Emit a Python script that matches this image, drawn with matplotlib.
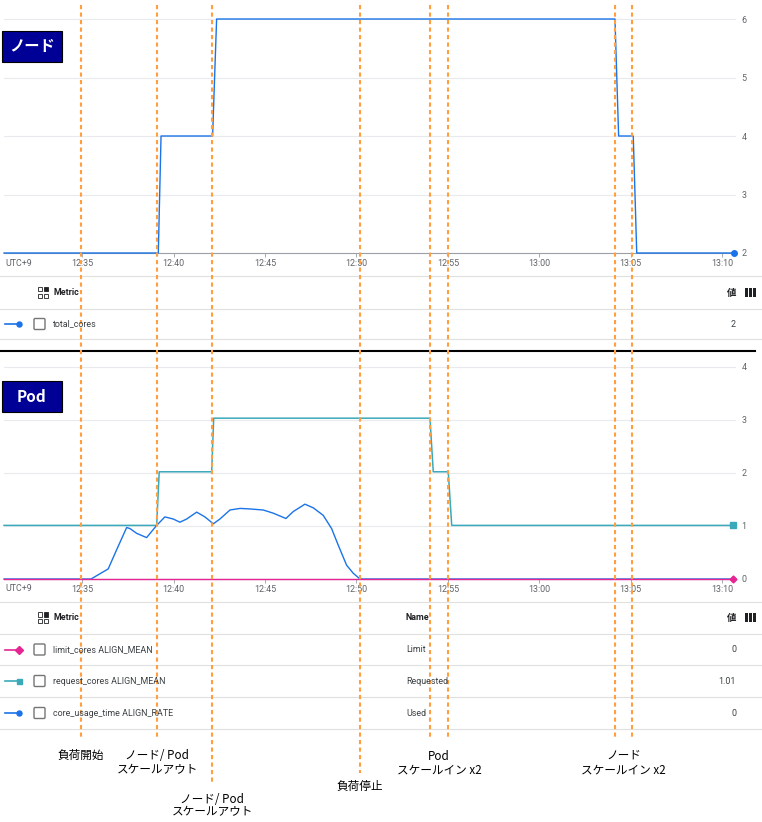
import numpy as np
import matplotlib.pyplot as plt
from matplotlib.patches import Rectangle, FancyBboxPatch
from matplotlib.lines import Line2D
from matplotlib.transforms import blended_transform_factory

# time axis: minutes after 12:30 (UTC+9)
xtick_t = [5, 10, 15, 20, 25, 30, 35, 40]
xtick_labels = ['12:35', '12:40', '12:45', '12:50', '12:55', '13:00', '13:05', '13:10']

# node chart: total_cores
total_cores_t = [0.72, 9.16, 9.31, 12.13, 12.35, 34.14, 34.34, 35.14, 35.33, 40.67]
total_cores_v = [2, 2, 4, 4, 6, 6, 4, 4, 2, 2]

# pod chart
limit_t = [0.72, 40.61]
limit_v = [0, 0]
request_t = [0.72, 9.07, 9.21, 12.08, 12.19, 24.02, 24.20, 25.02, 25.21, 40.61]
request_v = [1.01, 1.01, 2.02, 2.02, 3.03, 3.03, 2.02, 2.02, 1.01, 1.01]
usage_t = [0.72, 5.48, 6.42, 6.88, 7.43, 7.61, 7.98, 8.52, 9.07, 9.52, 9.98, 10.34, 10.71,
           11.26, 11.71, 12.17, 12.53, 13.08, 13.63, 14.17, 14.90, 15.45, 16.14, 16.54,
           17.18, 17.64, 18.18, 18.64, 19.00, 19.46, 19.82, 20.19, 40.61]
usage_v = [0, 0, 0.19, 0.55, 0.97, 0.95, 0.86, 0.78, 1.01, 1.17, 1.13, 1.07, 1.13,
           1.26, 1.17, 1.04, 1.13, 1.30, 1.33, 1.32, 1.30, 1.24, 1.14, 1.27,
           1.41, 1.34, 1.20, 0.95, 0.64, 0.26, 0.11, 0, 0]

# events (orange dashed lines)
event_t = [4.91, 9.11, 12.10, 20.19, 24.04, 25.01, 34.14, 35.06]

# legend tables
node_metrics = ['total_cores']
node_values = ['2']
pod_metrics = ['limit_cores ALIGN_MEAN', 'request_cores ALIGN_MEAN', 'core_usage_time ALIGN_RATE']
pod_names = ['Limit', 'Requested', 'Used']
pod_values = ['0', '1.01', '0']

BLUE = '#1a73e8'
TEAL = '#3aa9b9'
PINK = '#e52592'
ORANGE = '#ff9f40'
GRID = '#e8eaed'
TXT = '#3c4043'
JP = ['Noto Sans CJK JP', 'DejaVu Sans']
RB = ['Roboto', 'DejaVu Sans']
SMALL = 6.4

W, H = 762, 822
fig = plt.figure(figsize=(W / 100, H / 100), dpi=100)


def px_box(x0, y0, x1, y1):
    return [x0 / W, 1 - y1 / H, (x1 - x0) / W, (y1 - y0) / H]


def style_chart(ax, ylim, yticks):
    ax.set_xlim(0.72, 40.76)
    ax.set_ylim(*ylim)
    for s in ['top', 'left', 'right']:
        ax.spines[s].set_visible(False)
    ax.spines['bottom'].set_color('#9aa0a6')
    ax.spines['bottom'].set_linewidth(0.8)
    ax.set_yticks(yticks)
    ax.set_yticklabels([str(v) for v in yticks])
    ax.yaxis.tick_right()
    ax.tick_params(axis='y', length=0, pad=4, labelsize=SMALL, labelcolor='#5f6368')
    ax.set_xticks(xtick_t)
    ax.set_xticklabels(xtick_labels)
    ax.tick_params(axis='x', length=3, width=0.6, color='#9aa0a6', pad=1.5,
                   labelsize=SMALL, labelcolor='#5f6368')
    for lab in ax.get_xticklabels() + ax.get_yticklabels():
        lab.set_family(RB)
    for v in yticks[1:]:
        ax.axhline(v, color=GRID, lw=0.8, zorder=0)


# node chart
ax1 = fig.add_axes(px_box(4, 10, 736, 253))
style_chart(ax1, (2, 6.154), [2, 3, 4, 5, 6])
ax1.plot(total_cores_t, total_cores_v, color=BLUE, lw=1, clip_on=False, zorder=3)
ax1.plot(total_cores_t[-1], total_cores_v[-1], 'o', color=BLUE, ms=4, clip_on=False, zorder=4)

# pod chart
ax2 = fig.add_axes(px_box(4, 358, 736, 579))
style_chart(ax2, (0, 4.164), [0, 1, 2, 3, 4])
ax2.plot(request_t, request_v, color=TEAL, lw=1.1, clip_on=False, zorder=3)
ax2.plot(usage_t, usage_v, color=BLUE, lw=1, clip_on=False, zorder=3)
ax2.plot(limit_t, limit_v, color=PINK, lw=1, clip_on=False, zorder=4)
ax2.plot(request_t[-1], request_v[-1], 's', color=TEAL, ms=4, clip_on=False, zorder=5)
ax2.plot(limit_t[-1], limit_v[-1], 'D', color=PINK, ms=3.5, clip_on=False, zorder=5)

# overlay in pixel coordinates
ov = fig.add_axes([0, 0, 1, 1])
ov.set_xlim(0, W)
ov.set_ylim(H, 0)
ov.axis('off')
ov.set_zorder(10)

for y in [263, 588]:
    ov.text(5, y, 'UTC+9', fontsize=SMALL, color='#5f6368', family=RB, va='center', ha='left')


def title_box(y0, y1, label):
    ov.add_patch(Rectangle((2, y0), 60, y1 - y0, facecolor='#000096', edgecolor='black', lw=0.8))
    ov.text(32, (y0 + y1) / 2, label, color='white', fontsize=11, fontweight='bold',
            family=JP, ha='center', va='center')


title_box(31, 62, 'ノード')
title_box(381, 412, 'Pod')

# separator
ov.plot([0, 755], [351, 351], color='black', lw=1.5)


def metric_icon(x, y):
    s = 4.2
    g = 2.0
    for i in range(2):
        for j in range(2):
            filled = (i == 1 and j == 0)
            ov.add_patch(Rectangle((x + i * (s + g), y - s - g / 2 + j * (s + g)), s, s,
                                   facecolor='#202124' if filled else 'white',
                                   edgecolor='#202124', lw=0.6))


def cols_icon(x, y):
    for k in range(3):
        ov.add_patch(Rectangle((x + k * 4, y - 4.5), 3, 9, facecolor='#202124', lw=0))


def checkbox(x, y):
    ov.add_patch(FancyBboxPatch((x - 5.5, y - 5.5), 11, 11, boxstyle='round,pad=0,rounding_size=1.2',
                                facecolor='white', edgecolor='#757575', lw=1.0))


def table(y_lines, y_head, rows, colors, markers, names=None, values=None):
    for y in y_lines:
        ov.plot([0, W], [y, y], color='#e0e0e0', lw=0.8)
    metric_icon(37.5, y_head)
    ov.text(53, y_head, 'Metric', fontsize=SMALL, fontweight='bold', color='#202124',
            family=RB, va='center')
    if names is not None:
        ov.text(406, y_head, 'Name', fontsize=SMALL, fontweight='bold', color='#202124',
                family=RB, va='center')
    ov.text(736, y_head, '値', fontsize=6.8, fontweight='bold', color='#202124',
            family=JP, va='center', ha='right')
    cols_icon(745, y_head)
    for k, label in enumerate(rows):
        y = (y_lines[k + 1] + y_lines[k + 2]) / 2
        ov.plot([5, 19], [y, y], color=colors[k], lw=1.2)
        ov.plot([19], [y], markers[k], color=colors[k], ms=3.6)
        checkbox(39.5, y)
        ov.text(53, y, label, fontsize=SMALL, color=TXT, family=RB, va='center')
        if names is not None:
            ov.text(406, y, names[k], fontsize=SMALL, color=TXT, family=RB, va='center')
        ov.text(736, y, values[k], fontsize=SMALL, color=TXT, family=RB, va='center', ha='right')


table([276, 309, 339], 292.5, node_metrics, [BLUE], ['o'], values=node_values)
table([602, 634, 665, 697, 729], 617.5, pod_metrics, [PINK, TEAL, BLUE], ['D', 's', 'o'],
      names=pod_names, values=pod_values)

# event lines
tr = blended_transform_factory(ax1.transData, ov.transData)
event_bottom = [738, 738, 782, 773, 738, 738, 738, 738]
for t, yb in zip(event_t, event_bottom):
    ov.add_line(Line2D([t, t], [5, yb], transform=tr, color=ORANGE, lw=1.5,
                       linestyle=(0, (2.0, 1.6)), clip_on=False))

# annotations
notes = [
    (event_t[0], 755, '負荷開始'),
    (event_t[1], 755, 'ノード/ Pod'),
    (event_t[1], 769.5, 'スケールアウト'),
    (event_t[2], 799, 'ノード/ Pod'),
    (event_t[2], 812, 'スケールアウト'),
    (event_t[3], 786, '負荷停止'),
    ((event_t[4] + event_t[5]) / 2, 756, 'Pod'),
    ((event_t[4] + event_t[5]) / 2, 770, 'スケールイン x2'),
    ((event_t[6] + event_t[7]) / 2, 755, 'ノード'),
    ((event_t[6] + event_t[7]) / 2, 770, 'スケールイン x2'),
]
for t, y, s in notes:
    ov.text(t, y, s, transform=tr, fontsize=8.4, family=JP, color='black',
            ha='center', va='center')

fig.savefig('out.png', dpi=100)
